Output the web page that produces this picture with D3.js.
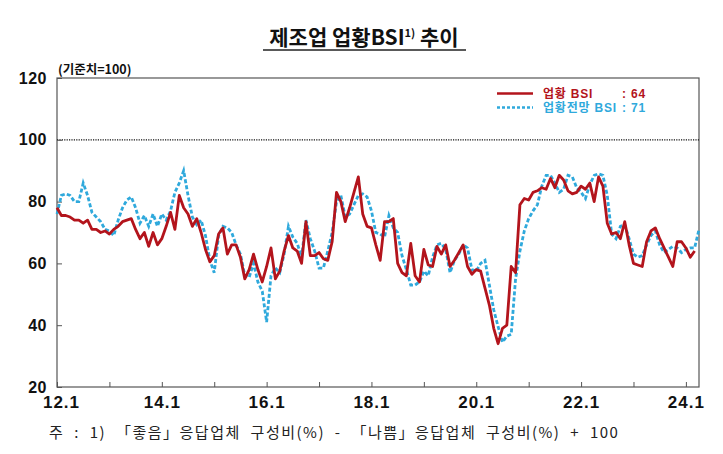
<!DOCTYPE html>
<html><head><meta charset="utf-8">
<script src="https://cdn.jsdelivr.net/npm/d3@7"></script>
<style>
html,body{margin:0;padding:0;background:#fff;}
svg{display:block;}
</style></head>
<body>
<svg id="chart" width="723" height="454"></svg>
<script>
// Monthly data, 2012.1 onward
const startYear = 2012;
const actualBSI = [
78,75.5,75.5,75,74,74,73,74,71,71,70,70.5,
69.5,71,72,73.5,74,74.5,71,68,70,65.5,70,66,
68,72,76.5,71,82,78,76,72,74.5,70,64.5,60.5,
62.5,69.5,71.5,63,66,66,62,55,58,63,58,54,
59,65,55,57.5,64,69,65,64,60,73.5,62.5,62.5,
63.5,61.5,61,67,83,80,73.5,78,83,88,76,72,
71.5,66,61,73.5,73.5,74.5,60,57,56,66.5,56,54,
64.5,59.5,59,65.5,63,66,59,61,63.5,66,59,56.5,
58,57.5,52,46.5,39,34,39,40,59,57,79,81,
80.5,83,83.5,84.5,84,87.5,84.5,88.5,87,83.5,82.5,83,
85,84,86,80,88,85,73,69.5,70,68,73.5,66,
60,59.5,59,67,70.5,71.5,68,65,62,59,67,67,
65,62,64
];
const outlookBSI = [
76,82,82.5,82,80,80,86,82,76.5,75,73.5,71,
70.5,69,74,78,80.5,81.5,78,73,75.5,72,76,72,
76,74,77,83,86,90,82,75,72.5,74,69,61,
57,69,72,71.5,70,66,63,56,55.5,60,54,51,
41,56,58.5,57,63,72,68.5,66.5,62,74,68,64,
58.5,58.5,64,70,80,82,75,76,79,82,82.5,81.5,
77,70,69.5,68.5,75.5,71.5,70,62.5,58,53,53,54,
57.5,56,62,66,66.5,64.5,57,61,63,66,65,58,
57.5,60,61,53,45,39.5,34.5,36.5,37,55,64,70.5,
74.5,77,79,85,88.5,88.5,86,83,84,88.5,88,84.5,
83,81,85.5,88.5,89,88.5,82,69.5,68,72,72.5,68,
63,62,62.5,66,69,70.5,66,63.5,64.5,65.5,65,63.5,
64.5,65,65,71
];
const yTicks = [20,40,60,80,100,120];
const xTickLabels = ["12.1","14.1","16.1","18.1","20.1","22.1","24.1"];
const legendNames = ["업황 BSI","업황전망 BSI"];
const legendValues = [": 64",": 71"];

const svg = d3.select("#chart");
const L = 57, R = 699, T = 78, B = 387;
const x = d3.scaleLinear().domain([0,147]).range([L,R]);
const y = d3.scaleLinear().domain([20,120]).range([B,T]);
const RED = "#b3141c", BLUE = "#2fa9dc";

// Title
const title = svg.append("text").attr("x",364).attr("y",45)
  .attr("text-anchor","middle")
  .style("font-family","'Noto Sans CJK KR'").style("font-weight","700")
  .style("font-size","21px").attr("fill","#111");
title.append("tspan").text("제조업 업황BSI");
title.append("tspan").text("1)").attr("dy",-8).style("font-size","11px");
title.append("tspan").text(" 추이").attr("dy",8);
svg.append("line").attr("x1",263).attr("x2",466).attr("y1",50).attr("y2",50)
  .attr("stroke","#222").attr("stroke-width",1.3);

svg.append("text").attr("x",58).attr("y",74).text("(기준치=100)")
  .style("font-family","'Noto Sans CJK KR'").style("font-weight","700")
  .style("font-size","12.5px").attr("fill","#111");

// Frame
svg.append("rect").attr("x",L).attr("y",T).attr("width",R-L).attr("height",B-T)
  .attr("fill","none").attr("stroke","#555").attr("stroke-width",1.2);

// 100 reference dotted line
svg.append("line").attr("x1",L).attr("x2",R).attr("y1",y(100)).attr("y2",y(100))
  .attr("stroke","#111").attr("stroke-width",1.2).attr("stroke-dasharray","1.2,1.2");

// Y axis
const yAxis = d3.axisLeft(y).tickValues(yTicks).tickSize(-5).tickPadding(10);
const gy = svg.append("g").attr("transform",`translate(${L},0)`).call(yAxis);
gy.select(".domain").remove();
gy.selectAll(".tick line").attr("stroke","#555");
gy.selectAll(".tick text").style("font-family","'Liberation Sans',Arial")
  .style("font-weight","700").style("font-size","16px").attr("fill","#111")
  .style("letter-spacing","0.5px");

// X axis (yearly ticks, labels every 2 years)
const yearTicks = d3.range(0,13).map(i=>i*12);
const xAxis = d3.axisBottom(x).tickValues(yearTicks).tickSize(-5).tickPadding(9)
  .tickFormat((d,i)=> i%2===0 ? xTickLabels[i/2] : "");
const gx = svg.append("g").attr("transform",`translate(0,${B})`).call(xAxis);
gx.select(".domain").remove();
gx.selectAll(".tick line").attr("stroke","#555");
gx.selectAll(".tick text").style("font-family","'Liberation Sans',Arial")
  .style("font-weight","700").style("font-size","17px").attr("fill","#111")
  .style("letter-spacing","1px");
gx.selectAll(".tick").filter(d=>d===0).select("text").attr("dx",4);

// Lines
const line = d3.line().x((d,i)=>x(i)).y(d=>y(d));
svg.append("path").datum(outlookBSI).attr("d",line).attr("fill","none")
  .attr("stroke",BLUE).attr("stroke-width",2.8).attr("stroke-dasharray","4,2.2");
svg.append("path").datum(actualBSI).attr("d",line).attr("fill","none")
  .attr("stroke",RED).attr("stroke-width",2.8).attr("stroke-linejoin","round");

// Legend
const leg = svg.append("g");
[0,1].forEach(i=>{
  const ly = 93.5 + i*14;
  leg.append("line").attr("x1",497).attr("x2",533).attr("y1",ly).attr("y2",ly)
    .attr("stroke", i===0?RED:BLUE).attr("stroke-width",2.4)
    .attr("stroke-dasharray", i===0?null:"3,2");
  leg.append("text").attr("x",543).attr("y",ly+4.4).text(legendNames[i])
    .attr("fill", i===0?RED:BLUE)
    .style("font-family","'Liberation Sans','Noto Sans CJK KR'").style("font-weight","700").style("font-size","12px")
    .style("letter-spacing","0.8px");
  leg.append("text").attr("x",622).attr("y",ly+4.4).text(legendValues[i])
    .attr("fill", i===0?RED:BLUE)
    .style("font-family","'Liberation Sans','Noto Sans CJK KR'").style("font-weight","700").style("font-size","12px")
    .style("letter-spacing","0.8px");
});

// Footnote
svg.append("text").attr("x",49).attr("y",438)
  .text("주 : 1) 「좋음」응답업체 구성비(%) - 「나쁨」응답업체 구성비(%) + 100")
  .style("font-family","'Noto Sans CJK KR'").style("font-weight","400")
  .style("font-size","15px").style("letter-spacing","1.5px").style("word-spacing","5px").attr("fill","#222");
</script>
</body></html>
